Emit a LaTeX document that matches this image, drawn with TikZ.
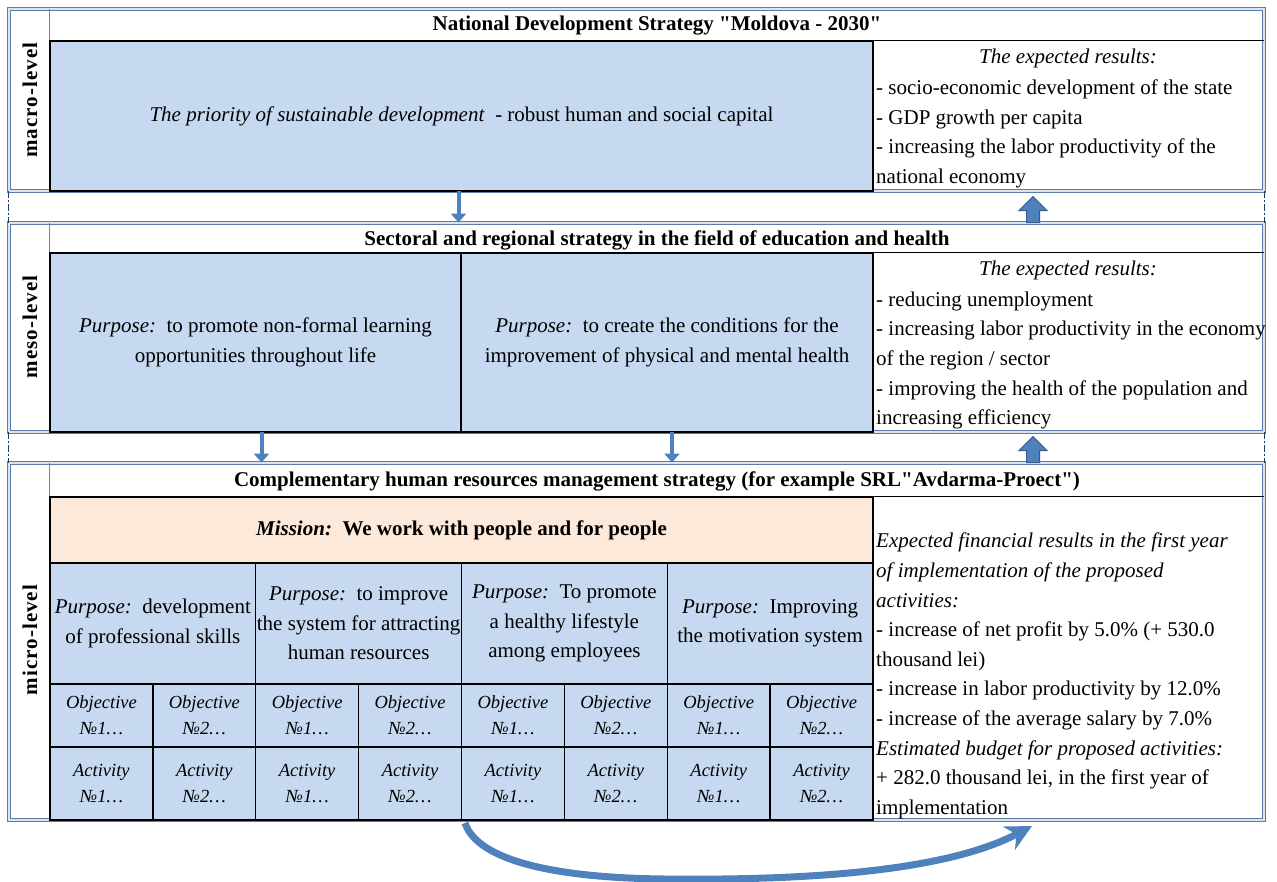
\documentclass[tikz,border=0pt]{standalone}
\usepackage{fontspec}
\setmainfont{Liberation Serif}[Ligatures=TeXOff]
\usetikzlibrary{arrows.meta}

\definecolor{cellblue}{HTML}{C6D9F1}
\definecolor{cellpeach}{HTML}{FDE9D9}
\definecolor{framegray}{HTML}{5B7BA8}
\definecolor{framepale}{HTML}{DCE4F0}
\definecolor{arrowblue}{HTML}{4F81BD}
\definecolor{arrowedge}{HTML}{385D8A}
\definecolor{dashnavy}{HTML}{1F3864}

\newcommand{\mainsize}{\fontsize{21}{29.6}\selectfont}
\newcommand{\smallsize}{\fontsize{18.5}{26}\selectfont}

\begin{document}
\begin{tikzpicture}[x=1pt,y=-1pt,
        every node/.style={font=\mainsize, inner sep=0pt},
        levelbox/.style={draw=framegray, double=framepale, double distance=1.6pt, line width=0.9pt, minimum width=1255pt},
        linkdash/.style={draw=dashnavy, line width=1.6pt, dash pattern=on 7pt off 2pt on 2pt off 2pt},
        cell/.style={draw=black, line width=1.3pt, fill=cellblue, align=center},
        smallcell/.style={cell, minimum width=102.875pt, font=\itshape\smallsize},
        headsep/.style={draw=black, line width=1.3pt},
        colsep/.style={draw=gray, line width=1pt},
        levellabel/.style={rotate=90, font=\bfseries\mainsize\addfontfeatures{LetterSpace=5}},
        headtext/.style={font=\bfseries\mainsize},
        restext/.style={align=left, anchor=north west},
        thinarrow/.style={draw=arrowblue, line width=4pt, -{Triangle[width=15pt,length=9pt]}},
        blockarrow/.style={fill=arrowblue, draw=arrowedge, line width=1pt},
        swoosh/.style={draw=arrowblue, line width=7pt, -{Stealth[length=26pt,width=26pt]}}
    ]
    \useasboundingbox (0,0) rectangle (1277,881);

    % level frames
    \node[levelbox, minimum height=182pt] (macro) at (636.5,100) {};
    \node[levelbox, minimum height=209pt] (meso) at (636.5,327.5) {};
    \node[levelbox, minimum height=357pt] (micro) at (636.5,641.5) {};
    \draw[linkdash] (macro.south west) -- (meso.north west);
    \draw[linkdash] (macro.south east) -- (meso.north east);
    \draw[linkdash] (meso.south west) -- (micro.north west);
    \draw[linkdash] (meso.south east) -- (micro.north east);

    % macro-level
    \node[levellabel] (macroLbl) at (30,100) {macro-level};
    \node[headtext] (macroHead) at (657,26) {National Development Strategy "Moldova - 2030"};
    \node[cell, minimum width=823pt, minimum height=150pt] (prio) at (461.5,116)
        {\textit{The priority of sustainable development}\ \ - robust human and social capital};
    \draw[headsep] (prio.north west) -- (prio.north west -| macro.east);
    \draw[colsep] (prio.north west) -- (prio.north west |- macro.north);
    \node (macroResHead) at (1068,58) {\textit{The expected results:}};
    \node[restext] (macroRes) at (876,79.5)
        {- socio-economic development of the state\\
         - GDP growth per capita\\
         - increasing the labor productivity of the\\
         national economy};

    % meso-level
    \node[levellabel] (mesoLbl) at (30,327) {meso-level};
    \node[headtext] (mesoHead) at (657,240) {Sectoral and regional strategy in the field of education and health};
    \node[cell, minimum width=411pt, minimum height=179pt] (purpLearn) at (255.5,342.5)
        {\textit{Purpose:}\ \ to promote non-formal learning\\opportunities throughout life};
    \node[cell, minimum width=412pt, minimum height=179pt] (purpHealth) at (667,342.5)
        {\textit{Purpose:}\ \ to create the conditions for the\\improvement of physical and mental health};
    \draw[headsep] (purpLearn.north west) -- (purpLearn.north west -| meso.east);
    \draw[colsep] (purpLearn.north west) -- (purpLearn.north west |- meso.north);
    \node (mesoResHead) at (1068,270) {\textit{The expected results:}};
    \node[restext] (mesoRes) at (876,291.5)
        {- reducing unemployment\\
         - increasing labor productivity in the economy\\
         of the region / sector\\
         - improving the health of the population and\\
         increasing efficiency};

    % micro-level
    \node[levellabel] (microLbl) at (30,640) {micro-level};
    \node[headtext] (microHead) at (657,481) {Complementary human resources management strategy (for example SRL"Avdarma-Proect")};
    \node[cell, fill=cellpeach, minimum width=823pt, minimum height=66pt, font=\bfseries\mainsize] (mission) at (461.5,530)
        {\textit{Mission:}\ \ We work with people and for people};
    \draw[headsep] (mission.north west) -- (mission.north west -| micro.east);
    \draw[colsep] (mission.north west) -- (mission.north west |- micro.north);
    \foreach \i/\txt in {1/{\textit{Purpose:}\ \ development\\of professional skills},
                         2/{\textit{Purpose:}\ \ to improve\\the system for attracting\\human resources},
                         3/{\textit{Purpose:}\ \ To promote\\a healthy lifestyle\\among employees},
                         4/{\textit{Purpose:}\ \ Improving\\the motivation system}}
        {
            \node[cell, minimum width=205.75pt, minimum height=121pt] (purp\i) at ({50+(\i-0.5)*205.75},623.5) {\txt};
        }
    \foreach \k in {1,...,8}
        {
            \pgfmathtruncatemacro{\num}{2-mod(\k,2)}
            \node[smallcell, minimum height=63pt] (obj\k) at ({50+(\k-0.5)*102.875},715.5) {Objective\\№\num…};
            \node[smallcell, minimum height=73pt] (act\k) at ({50+(\k-0.5)*102.875},783.5) {Activity\\№\num…};
        }
    \node[restext] (microRes) at (876,533)
        {\textit{Expected financial results in the first year}\\
         \textit{of implementation of the proposed}\\
         \textit{activities:}\\
         - increase of net profit by 5.0\% (+ 530.0\\
         thousand lei)\\
         - increase in labor productivity by 12.0\%\\
         - increase of the average salary by 7.0\%\\
         \textit{Estimated budget for proposed activities:}\\
         + 282.0 thousand lei, in the first year of\\
         implementation};

    % arrows between the levels
    \coordinate (upX) at (1033,0);
    \draw[thinarrow] ([xshift=-3pt]macro.south -| prio.center) -- ([xshift=-3pt]meso.north -| prio.center);
    \draw[thinarrow] ([xshift=6pt]meso.south -| purpLearn.center) -- ([xshift=6pt]micro.north -| purpLearn.center);
    \draw[thinarrow] ([xshift=5pt]meso.south -| purpHealth.center) -- ([xshift=5pt]micro.north -| purpHealth.center);
    \draw[blockarrow] (meso.north -| upX) ++(-6.5,0) -- ++(0,-12) -- ++(-7.5,0) -- ++(14,-14)
        -- ++(14,14) -- ++(-7.5,0) -- ++(0,12) -- cycle;
    \draw[blockarrow] (micro.north -| upX) ++(-6.5,0) -- ++(0,-12) -- ++(-7.5,0) -- ++(14,-14)
        -- ++(14,14) -- ++(-7.5,0) -- ++(0,12) -- cycle;

    % feedback arrow under the micro-level
    \coordinate (swStart) at (465,823);
    \coordinate (swEnd) at (1032,826);
    \draw[swoosh] (swStart) .. controls (478,862) and (560,878) .. (665,879)
        .. controls (850,881) and (960,864) .. (swEnd);
\end{tikzpicture}
\end{document}
